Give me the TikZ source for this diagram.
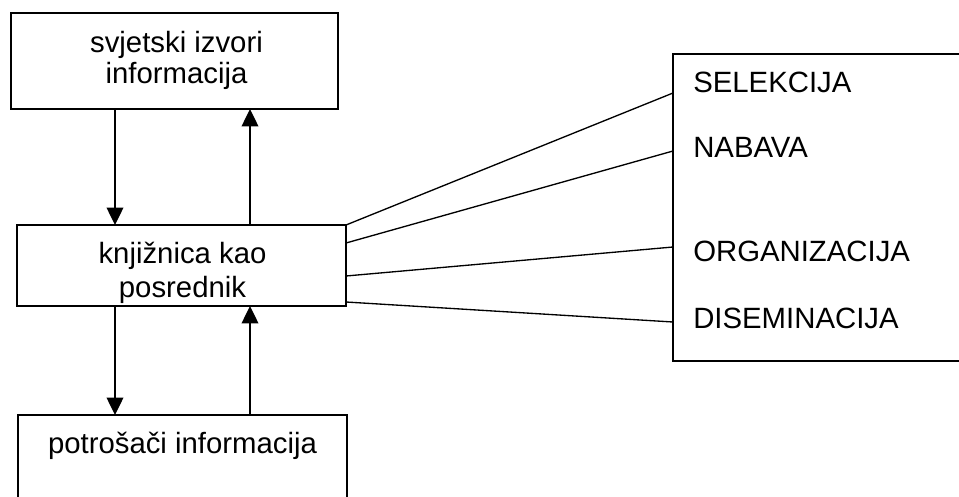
\documentclass[tikz,border=0pt]{standalone}
\usepackage{fontspec}
\setmainfont{Liberation Sans}
\usetikzlibrary{arrows.meta}
\begin{document}
\begin{tikzpicture}[x=0.75pt,y=-0.75pt,
  box/.style={draw,line width=1pt,inner sep=0pt,outer sep=0pt},
  lbl/.style={font=\fontsize{22pt}{26pt}\selectfont,inner sep=0pt,anchor=base},
  lbll/.style={lbl,anchor=base west},
  arr/.style={line width=1pt,-{Triangle[width=12.5pt,length=13pt]}},
  conn/.style={line width=1pt}]
\useasboundingbox (0,0) rectangle (959,496);
% boxes
\node[box,minimum width=327*0.75pt,minimum height=96*0.75pt] (top) at (174.5,61) {};
\node[box,minimum width=329*0.75pt,minimum height=81*0.75pt] (mid) at (181.5,265.5) {};
\node[box,minimum width=329*0.75pt,minimum height=110*0.75pt] (bot) at (182.5,470) {};
\node[box,minimum width=330*0.75pt,minimum height=307*0.75pt] (rb) at (838,207.5) {};
% texts
\node[lbl] (t1) at (176.5,52) {svjetski izvori};
\node[lbl] (t2) at (176.5,83) {informacija};
\node[lbl] (m1) at (182.5,263) {knjižnica kao};
\node[lbl] (m2) at (182.5,297) {posrednik};
\node[lbl] (b1) at (182.5,453) {potrošači informacija};
\node[lbll] (r1) at (693,92) {SELEKCIJA};
\node[lbll] (r2) at (693,157) {NABAVA};
\node[lbll] (r3) at (693,261) {ORGANIZACIJA};
\node[lbll] (r4) at (693,328) {DISEMINACIJA};
% arrows
\coordinate (xa) at (115,0);
\coordinate (xb) at (250,0);
\draw[arr] (top.south -| xa) -- (mid.north -| xa);
\draw[arr] (mid.north -| xb) -- (top.south -| xb);
\draw[arr] (mid.south -| xa) -- (bot.north -| xa);
\draw[arr] (bot.north -| xb) -- (mid.south -| xb);
% connectors
\draw[conn] (mid.east |- 0,225) -- (rb.west |- 0,93);
\draw[conn] (mid.east |- 0,243) -- (rb.west |- 0,151);
\draw[conn] (mid.east |- 0,276) -- (rb.west |- 0,247);
\draw[conn] (mid.east |- 0,302) -- (rb.west |- 0,322);
\end{tikzpicture}
\end{document}
